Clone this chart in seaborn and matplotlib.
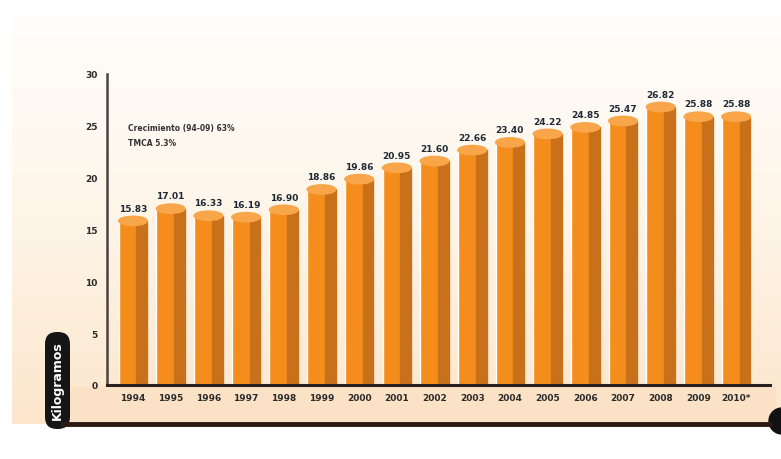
import numpy as np
import matplotlib
matplotlib.use("Agg")
import matplotlib.pyplot as plt
import seaborn as sns
from matplotlib.colors import LinearSegmentedColormap
from matplotlib.patches import Rectangle, Ellipse, FancyBboxPatch

# data
years = ["1994", "1995", "1996", "1997", "1998", "1999", "2000", "2001", "2002",
         "2003", "2004", "2005", "2006", "2007", "2008", "2009", "2010*"]
kilos = [15.83, 17.01, 16.33, 16.19, 16.90, 18.86, 19.86, 20.95, 21.60,
         22.66, 23.40, 24.22, 24.85, 25.47, 26.82, 25.88, 25.88]
y_ticks = [0, 5, 10, 15, 20, 25, 30]
note_lines = ["Crecimiento (94-09) 63%", "TMCA 5.3%"]
y_title = "Kilogramos"

sns.set_style("white")
plt.rcParams["font.family"] = ["DejaVu Sans"]

fig = plt.figure(figsize=(7.81, 4.6), dpi=100)
fig.patch.set_facecolor("white")

# background layer in pixel coords
bg = fig.add_axes([0, 0, 1, 1], zorder=-2)
bg.set_xlim(0, 781)
bg.set_ylim(460, 0)
bg.axis("off")
cream = LinearSegmentedColormap.from_list("cream", ["#fffefb", "#fef5e8", "#fce6cc"])
grad = np.linspace(0, 1, 256).reshape(-1, 1)
bg.imshow(grad, extent=(12, 781, 425, 15), cmap=cream, aspect="auto")
bg.add_patch(Rectangle((58, 388), 717, 37, color="#fbe2c6"))
bg.plot([60, 772], [425, 425], color="#2b1a12", lw=3.5, solid_capstyle="butt")
bg.add_patch(Ellipse((782, 422), 26, 26, color="#111111"))
bg.add_patch(FancyBboxPatch((45, 333), 25, 97, boxstyle="round,pad=0,rounding_size=12",
                            fc="#151515", ec="none"))
bg.text(57.5, 381, y_title, rotation=90, color="white", fontsize=9, fontweight="bold",
        ha="center", va="center")

# main chart
ax = fig.add_axes([107 / 781, 74 / 460, 663 / 781, 311 / 460])
ax.patch.set_alpha(0)
sns.barplot(x=years, y=kilos, color="#f58d1c", width=0.76, saturation=1, ax=ax, zorder=3)

for p, v in zip(ax.patches, kilos):
    x0, w, h = p.get_x(), p.get_width(), p.get_height()
    side = w * 0.38
    ax.add_patch(Rectangle((x0 + w - side, 0), side, h, color="#c8711a", zorder=4))
    ax.add_patch(Ellipse((x0 + w / 2, h), w, 0.9, color="#f9a64a", zorder=5))
    ax.text(x0 + w / 2, h + 0.8, f"{v:.2f}", ha="center", va="bottom",
            fontsize=6.5, fontweight="bold", color="#1f2a36", zorder=6)

ax.set_xlim(-0.69, 16.9)
ax.set_ylim(0, 30)
ax.set_yticks(y_ticks)
ax.set_xlabel("")
ax.set_ylabel("")
sns.despine(ax=ax, top=True, right=True)
for side_name, col, lw in [("left", "#4a4242", 1.8), ("bottom", "#2b2020", 2.2)]:
    ax.spines[side_name].set_color(col)
    ax.spines[side_name].set_linewidth(lw)
    ax.spines[side_name].set_zorder(10)
ax.tick_params(axis="y", length=5, width=1.2, color="#4a4242", pad=2,
               labelsize=6.5, labelcolor="#2b2b2b")
ax.tick_params(axis="x", length=0, pad=6, labelsize=6.5, labelcolor="#2b2b2b")
for lab in ax.get_xticklabels() + ax.get_yticklabels():
    lab.set_fontweight("bold")

fig.text(128 / 781, 1 - 129 / 460, note_lines[0], fontsize=5.5, fontweight="bold",
         color="#333333", va="center")
fig.text(128 / 781, 1 - 143 / 460, note_lines[1], fontsize=5.5, fontweight="bold",
         color="#333333", va="center")

fig.savefig("out.png", dpi=100)
